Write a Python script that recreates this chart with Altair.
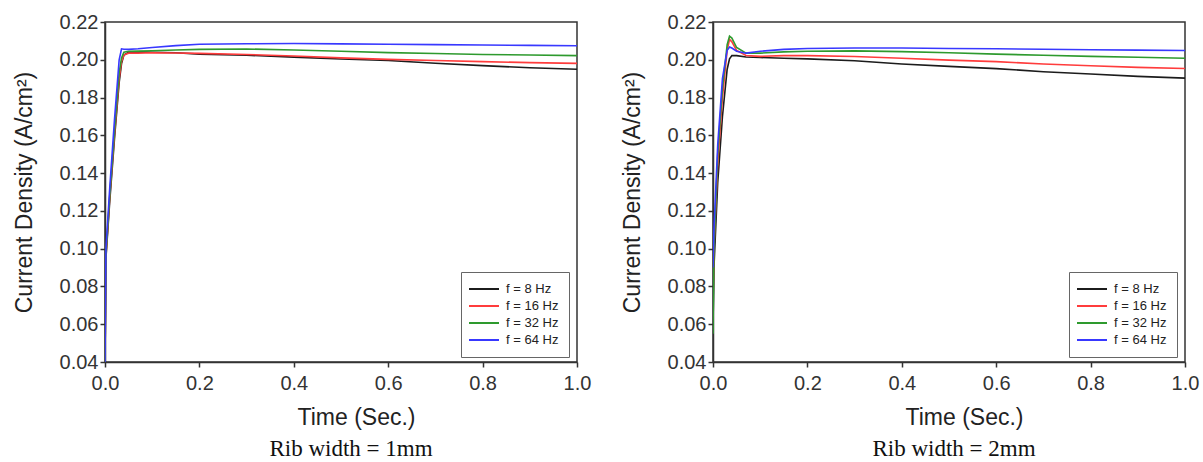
import altair as alt
import pandas as pd

# Sample times (s) shared by every curve
TIME = [0, 0.002, 0.01, 0.02, 0.03, 0.035, 0.04, 0.05, 0.07, 0.1, 0.15,
        0.2, 0.3, 0.4, 0.5, 0.6, 0.7, 0.8, 0.9, 1.0]

SERIES = ["f = 8 Hz", "f = 16 Hz", "f = 32 Hz", "f = 64 Hz"]
COLORS = ["#1c1c1c", "#ff3c3c", "#2e9a2e", "#3838ff"]

# Current density (A/cm^2), rib width = 1 mm
RIB1_8HZ = [0.040, 0.095, 0.125, 0.158, 0.188, 0.198, 0.2025, 0.2040, 0.2042, 0.2040,
            0.2037, 0.2030, 0.2024, 0.2014, 0.2004, 0.1996, 0.1982, 0.1969, 0.1958, 0.1950]
RIB1_16HZ = [0.040, 0.096, 0.127, 0.160, 0.190, 0.199, 0.2025, 0.2035, 0.2035, 0.2037,
             0.2036, 0.2034, 0.2028, 0.2020, 0.2010, 0.2002, 0.1996, 0.1990, 0.1985, 0.1981]
RIB1_32HZ = [0.040, 0.097, 0.128, 0.162, 0.193, 0.201, 0.2040, 0.2045, 0.2046, 0.2048,
             0.2052, 0.2055, 0.2057, 0.2052, 0.2045, 0.2038, 0.2033, 0.2028, 0.2025, 0.2022]
RIB1_64HZ = [0.040, 0.100, 0.132, 0.168, 0.200, 0.2058, 0.2056, 0.2055, 0.2058, 0.2065,
             0.2075, 0.2082, 0.2085, 0.2086, 0.2084, 0.2082, 0.2080, 0.2078, 0.2076, 0.2074]

# Current density (A/cm^2), rib width = 2 mm
RIB2_8HZ = [0.060, 0.090, 0.135, 0.170, 0.195, 0.2005, 0.2022, 0.2022, 0.2015, 0.2012,
            0.2008, 0.2005, 0.1995, 0.1978, 0.1965, 0.1953, 0.1937, 0.1925, 0.1912, 0.1903]
RIB2_16HZ = [0.070, 0.100, 0.145, 0.180, 0.205, 0.2108, 0.2095, 0.2050, 0.2023, 0.2018,
             0.2022, 0.2022, 0.2017, 0.2008, 0.1998, 0.1990, 0.1978, 0.1968, 0.1960, 0.1954]
RIB2_32HZ = [0.055, 0.100, 0.150, 0.185, 0.208, 0.2125, 0.2115, 0.2065, 0.2035, 0.2035,
             0.2042, 0.2045, 0.2047, 0.2043, 0.2037, 0.2030, 0.2024, 0.2018, 0.2013, 0.2008]
RIB2_64HZ = [0.090, 0.110, 0.155, 0.190, 0.205, 0.2068, 0.2062, 0.2045, 0.2035, 0.2045,
             0.2055, 0.2060, 0.2062, 0.2062, 0.2060, 0.2058, 0.2056, 0.2053, 0.2051, 0.2049]

X_TICKS = [0.0, 0.2, 0.4, 0.6, 0.8, 1.0]
Y_TICKS = [0.04, 0.06, 0.08, 0.10, 0.12, 0.14, 0.16, 0.18, 0.20, 0.22]

W, H = 472, 340
SANS = "Liberation Sans"
SERIF = "Liberation Serif"


def frame(curves):
    rows = []
    for name, values in zip(SERIES, curves):
        for i, (t, j) in enumerate(zip(TIME, values)):
            rows.append({"t": t, "j": j, "series": name, "idx": i})
    return pd.DataFrame(rows)


def panel(curves, caption, title_dx):
    return (
        alt.Chart(frame(curves))
        .mark_line(strokeWidth=1.6, clip=True)
        .encode(
            x=alt.X(
                "t:Q",
                scale=alt.Scale(domain=[0, 1], nice=False, zero=False),
                axis=alt.Axis(
                    values=X_TICKS, format=".1f", title="Time (Sec.)",
                    titleX=W / 2 + 15, titlePadding=13, labelPadding=6,
                    labelFlush=False,
                ),
            ),
            y=alt.Y(
                "j:Q",
                scale=alt.Scale(domain=[0.04, 0.22], nice=False, zero=False),
                axis=alt.Axis(
                    values=Y_TICKS, format=".2f",
                    title="Current Density (A/cm²)",
                    titlePadding=23, labelPadding=2, labelFlush=False,
                ),
            ),
            color=alt.Color(
                "series:N",
                scale=alt.Scale(domain=SERIES, range=COLORS),
                legend=alt.Legend(
                    title=None, orient="none", legendX=356, legendY=250,
                    symbolType="M-2.5,0H2.5", symbolSize=144, symbolStrokeWidth=2,
                    symbolOffset=6, labelOffset=15, labelFontSize=13,
                    labelFont=SANS, labelColor="#222", rowPadding=3, padding=10,
                    strokeColor="#666", fillColor="white",
                ),
            ),
            order=alt.Order("idx:Q"),
        )
        .properties(
            width=W, height=H,
            title=alt.TitleParams(
                caption, orient="bottom", font=SERIF, fontSize=23,
                fontWeight="normal", color="#111", dx=title_dx, offset=9,
            ),
        )
    )


left = panel([RIB1_8HZ, RIB1_16HZ, RIB1_32HZ, RIB1_64HZ], "Rib width = 1mm", 10)
right = panel([RIB2_8HZ, RIB2_16HZ, RIB2_32HZ, RIB2_64HZ], "Rib width = 2mm", 5)

chart = (
    alt.hconcat(left, right, spacing=28)
    .resolve_scale(color="independent")
    .resolve_legend(color="independent")
    .properties(padding={"left": 12, "top": 11, "right": 2, "bottom": 2})
    .configure_view(stroke="#333", strokeWidth=1.5)
    .configure_axis(
        grid=False, labelFont=SANS, labelFontSize=20, labelColor="#333",
        titleFont=SANS, titleFontSize=23, titleFontWeight="normal", titleColor="#222",
        domainColor="#333", domainWidth=1.5, tickColor="#333", tickWidth=1.5, tickSize=5,
    )
    .configure_title(anchor="middle")
)

chart.save("out.html", embed_options={"renderer": "svg", "actions": False})
